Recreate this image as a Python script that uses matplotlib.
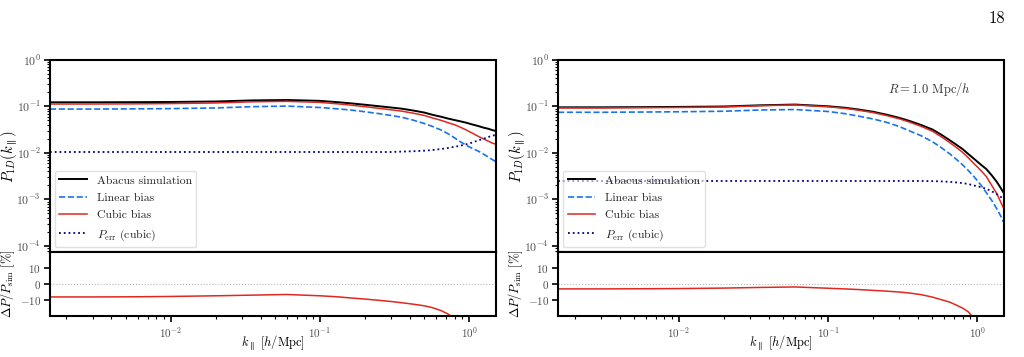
import matplotlib
matplotlib.use('Agg')
import matplotlib.pyplot as plt
import numpy as np

plt.rcParams['font.family'] = 'serif'
plt.rcParams['font.serif'] = ['cmr10', 'DejaVu Serif']
plt.rcParams['mathtext.fontset'] = 'cm'
plt.rcParams['axes.unicode_minus'] = False
plt.rcParams['axes.formatter.use_mathtext'] = True

# k grid shared by both panels [h/Mpc]
k = [0.00155, 0.003, 0.006, 0.01, 0.02, 0.035, 0.06, 0.1, 0.13, 0.16,
     0.2, 0.25, 0.3, 0.35, 0.42, 0.5, 0.57, 0.65, 0.72, 0.8,
     0.87, 0.95, 1.05, 1.15, 1.25, 1.35, 1.43, 1.51]

# left panel
sim_left = [0.123, 0.123, 0.124, 0.125, 0.128, 0.135, 0.138, 0.132, 0.124, 0.117,
            0.109, 0.101, 0.095, 0.090, 0.082, 0.074, 0.066, 0.060, 0.055, 0.051,
            0.048, 0.045, 0.041, 0.038, 0.035, 0.033, 0.031, 0.0297]
cubic_left = [0.113, 0.113, 0.114, 0.1155, 0.119, 0.126, 0.129, 0.1225, 0.1143, 0.1071,
              0.0990, 0.0909, 0.0848, 0.0797, 0.0719, 0.0642, 0.0564, 0.0502, 0.0449, 0.0403,
              0.0360, 0.0315, 0.0267, 0.0228, 0.0200, 0.0178, 0.0163, 0.0154]
linear_left = [0.088, 0.088, 0.089, 0.090, 0.093, 0.099, 0.102, 0.095, 0.089, 0.084,
               0.077, 0.070, 0.064, 0.059, 0.051, 0.043, 0.037, 0.031, 0.026, 0.021,
               0.0175, 0.0148, 0.0125, 0.0110, 0.0094, 0.0081, 0.0072, 0.0065]
perr_left = [0.0105, 0.0105, 0.0105, 0.0105, 0.0105, 0.0105, 0.0105, 0.0105, 0.0105, 0.0105,
             0.0105, 0.0105, 0.0105, 0.0107, 0.0109, 0.0112, 0.0116, 0.0122, 0.0128, 0.0136,
             0.0143, 0.0153, 0.0168, 0.0187, 0.0203, 0.0222, 0.0235, 0.0245]
resid_left = [-7.9, -7.9, -7.8, -7.6, -7.2, -6.8, -6.4, -7.2, -7.8, -8.5,
              -9.2, -10.0, -10.7, -11.4, -12.3, -13.3, -14.5, -16.3, -18.3, -21.0,
              -25.0, -30.0, -35.0, -40.0, -43.0, -46.0, -47.5, -48.0]

# right panel (R = 1.0 Mpc/h)
sim_right = [0.096, 0.096, 0.097, 0.098, 0.100, 0.106, 0.110, 0.101, 0.094, 0.086,
             0.077, 0.066, 0.057, 0.049, 0.040, 0.032, 0.025, 0.019, 0.0152, 0.0120,
             0.0095, 0.0075, 0.0057, 0.0045, 0.0033, 0.0024, 0.0018, 0.00135]
cubic_right = [0.0931, 0.0931, 0.0942, 0.0953, 0.0975, 0.1038, 0.108, 0.0984, 0.0912, 0.0831,
               0.0740, 0.0631, 0.0542, 0.0463, 0.0374, 0.0294, 0.0226, 0.0169, 0.0133, 0.0102,
               0.0079, 0.0059, 0.0043, 0.0031, 0.0020, 0.00134, 0.0009, 0.00062]
linear_right = [0.075, 0.075, 0.076, 0.077, 0.079, 0.084, 0.086, 0.078, 0.070, 0.062,
                0.054, 0.045, 0.037, 0.030, 0.0235, 0.0175, 0.0132, 0.0097, 0.0074, 0.0055,
                0.0042, 0.0031, 0.0021, 0.0014, 0.00095, 0.00063, 0.00045, 0.00031]
perr_right = [0.0025, 0.0025, 0.0025, 0.0025, 0.0025, 0.0025, 0.0025, 0.0025, 0.0025, 0.0025,
              0.0025, 0.0025, 0.0025, 0.0025, 0.0025, 0.00248, 0.00245, 0.0024, 0.00233, 0.00225,
              0.00215, 0.0020, 0.00185, 0.0017, 0.0015, 0.0013, 0.00115, 0.0010]
resid_right = [-3.0, -3.0, -2.9, -2.8, -2.5, -2.1, -1.8, -2.6, -3.0, -3.4,
               -3.9, -4.4, -4.9, -5.5, -6.5, -8.0, -9.5, -11.0, -12.8, -14.8,
               -17.0, -21.0, -25.0, -32.0, -38.0, -44.0, -50.0, -54.0]

C_SIM = 'black'
C_LIN = '#1a73e8'
C_CUB = '#e0281e'
C_ERR = '#000080'
TICK_C = '0.3'


def style_axis(ax, size=8.5):
    for s in ax.spines.values():
        s.set_linewidth(1.5)
    ax.tick_params(which='both', direction='out', colors='black', labelcolor=TICK_C,
                   labelsize=size, top=False, right=False, pad=2)
    ax.tick_params(which='major', length=4.5, width=1.2)
    ax.tick_params(which='minor', length=2.5, width=0.8)


def make_panel(x0, sim, linear, cubic, perr, resid, note=None):
    w = 0.4355
    ax = fig.add_axes([x0, 0.294, w, 0.538])
    axr = fig.add_axes([x0, 0.115, w, 0.179], sharex=ax)
    ax.plot(k, sim, color=C_SIM, lw=1.4, label='Abacus simulation')
    ax.plot(k, linear, color=C_LIN, lw=1.2, ls='--', label='Linear bias')
    ax.plot(k, cubic, color=C_CUB, lw=1.1, label='Cubic bias')
    ax.plot(k, perr, color=C_ERR, lw=1.3, ls=':', label=r'$P_{\rm err}$ (cubic)')
    ax.set_xscale('log')
    ax.set_yscale('log')
    ax.set_xlim(1.55e-3, 1.51)
    ax.set_ylim(10 ** -4.13, 1.0)
    ax.set_yticks([1e-4, 1e-3, 1e-2, 1e-1, 1e0])
    ax.set_ylabel(r'$P_{1D}(k_{\parallel})$', fontsize=10.5)
    ax.yaxis.set_label_coords(-0.07, 0.5)
    ax.tick_params(labelbottom=False)
    leg = ax.legend(loc='lower left', fontsize=8.5, framealpha=0.6, edgecolor='0.8',
                    handlelength=2.3, handletextpad=0.85, borderaxespad=0.4,
                    labelspacing=0.6)
    for t in leg.get_texts():
        t.set_color('0.15')
    if note:
        ax.text(0.925, 0.85, note, transform=ax.transAxes, ha='right', va='center',
                fontsize=9, color='0.2')
    style_axis(ax)

    axr.plot(k, resid, color=C_CUB, lw=1.1)
    axr.axhline(0, color='0.7', lw=0.8, ls=':')
    axr.set_ylim(-19.5, 19.5)
    axr.set_yticks([-10, 0, 10])
    axr.set_ylabel(r'$\Delta P/P_{\rm sim}$ [%]', fontsize=9)
    axr.yaxis.set_label_coords(-0.075, 0.5)
    axr.set_xlabel(r'$k_{\parallel}$ [$h$/Mpc]', fontsize=9)
    axr.xaxis.set_label_coords(0.5, -0.27)
    style_axis(axr, size=8)
    return ax, axr


fig = plt.figure(figsize=(10.24, 3.57), dpi=100)
make_panel(0.0488, sim_left, linear_left, cubic_left, perr_left, resid_left)
make_panel(0.545, sim_right, linear_right, cubic_right, perr_right, resid_right,
           note=r'$R = 1.0$ Mpc$/h$')
fig.text(0.982, 0.95, '18', ha='right', va='center', fontsize=12)

fig.savefig('out.png', dpi=100)
